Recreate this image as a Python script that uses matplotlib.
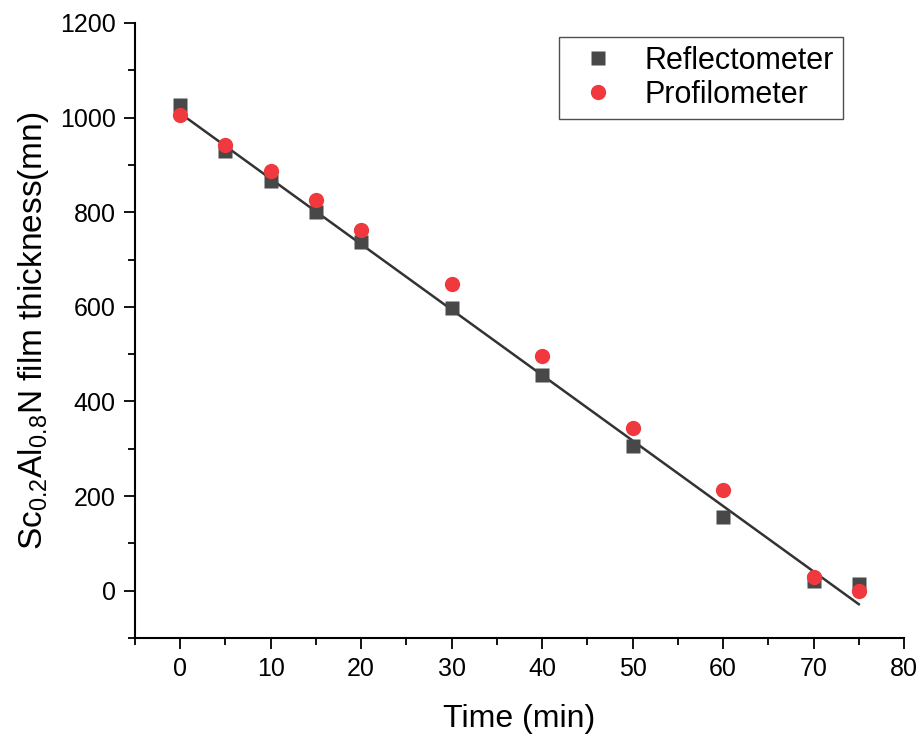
"""
# Sc0.2Al0.8N film thickness vs etch time, reflectometer and profilometer
"""

### Packages
import numpy as np
import matplotlib.pyplot as plt
from matplotlib.ticker import MultipleLocator

### Data
time_min = [0, 5, 10, 15, 20, 30, 40, 50, 60, 70, 75]
reflectometer = [1027, 930, 865, 800, 738, 598, 456, 306, 156, 20, 15]
profilometer = [1005, 942, 888, 826, 762, 648, 496, 344, 213, 30, 0]

### Plot
plt.rcParams['font.family'] = ['Liberation Sans', 'DejaVu Sans']
plt.rcParams['mathtext.fontset'] = 'custom'
plt.rcParams['mathtext.rm'] = 'Liberation Sans'

fig = plt.figure(figsize=(9.22, 7.40), dpi=100)
ax = fig.add_axes([0.1464, 0.1378, 0.8341, 0.8312])

# Linear fit of the reflectometer data
slope, intercept = np.polyfit(time_min, reflectometer, 1)
fit_x = np.array([time_min[0], time_min[-1]])
ax.plot(fit_x, slope * fit_x + intercept, color='#333333', lw=1.8, zorder=2)

ax.plot(time_min, reflectometer, 's', color='#484848', ms=10, mec='none',
        label='Reflectometer', zorder=3)
ax.plot(time_min, profilometer, 'o', color='#f0393f', ms=11, mec='none',
        label='Profilometer', zorder=4)

ax.set_xlim(-5, 80)
ax.set_ylim(-100, 1200)
ax.xaxis.set_major_locator(MultipleLocator(10))
ax.xaxis.set_minor_locator(MultipleLocator(5))
ax.yaxis.set_major_locator(MultipleLocator(200))
ax.yaxis.set_minor_locator(MultipleLocator(100))

for side in ['top', 'right']:
    ax.spines[side].set_visible(False)
for side in ['left', 'bottom']:
    ax.spines[side].set_linewidth(1.5)

ax.tick_params(which='major', direction='out', length=8, width=1.3, labelsize=18, pad=6)
ax.tick_params(which='minor', direction='out', length=5, width=1.3)

ax.set_xlabel('Time (min)', fontsize=23, labelpad=16)
ax.set_ylabel(r'Sc$_{0.2}$Al$_{0.8}$N film thickness(mn)', fontsize=24, labelpad=6)

leg = ax.legend(loc='upper left', bbox_to_anchor=(0.531, 1.002), fontsize=22,
                frameon=True, fancybox=False, borderpad=0.3, handletextpad=0.5,
                labelspacing=0.12, handlelength=2.0)
leg.get_frame().set_edgecolor('#222222')
leg.get_frame().set_linewidth(1.0)

plt.savefig('out.png', format='png')
plt.close()
